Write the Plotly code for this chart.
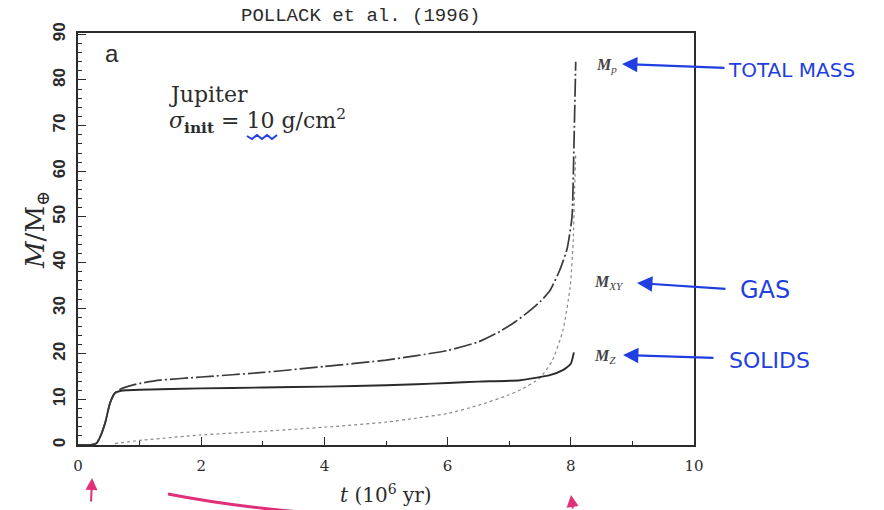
import plotly.graph_objects as go

# ---- data ----
t_mp = [0.0, 0.2, 0.3, 0.36, 0.44, 0.52, 0.6, 0.7, 0.8, 1.0, 1.33, 2.0, 3.0, 4.0, 5.0, 5.5, 6.0, 6.5, 6.85, 7.1, 7.34, 7.5, 7.66, 7.82, 7.94, 8.02, 8.05, 8.08]
m_mp = [0.0, 0.0, 0.4, 1.8, 4.8, 9.2, 11.4, 12.3, 12.8, 13.5, 14.2, 14.9, 15.9, 17.2, 18.6, 19.6, 20.7, 22.6, 24.9, 27.0, 29.5, 31.4, 33.8, 38.3, 43.0, 50.0, 65.0, 84.0]

t_mz = [0.0, 0.2, 0.3, 0.36, 0.44, 0.52, 0.6, 0.7, 0.8, 1.0, 2.0, 3.0, 4.0, 5.0, 5.5, 6.0, 6.5, 7.18, 7.66, 7.87, 8.0, 8.05]
m_mz = [0.0, 0.0, 0.4, 1.8, 4.8, 9.2, 11.4, 11.9, 12.0, 12.1, 12.4, 12.6, 12.8, 13.1, 13.3, 13.6, 13.9, 14.2, 15.3, 16.4, 17.8, 20.3]

t_mxy = [0.6, 1.0, 2.0, 3.0, 4.0, 5.0, 5.5, 6.0, 6.5, 7.0, 7.2, 7.5, 7.7, 7.87, 7.99, 8.04, 8.06, 8.08]
m_mxy = [0.3, 1.0, 2.2, 3.0, 3.9, 5.0, 5.9, 6.9, 8.7, 11.0, 12.2, 14.7, 18.5, 25.0, 34.6, 45.0, 55.0, 64.0]

x_ticks = [0, 2, 4, 6, 8, 10]
y_ticks = [0, 10, 20, 30, 40, 50, 60, 70, 80, 90]

# ---- layout geometry (pixels) ----
W, H = 884, 510
L, R, T, B = 78, 190, 33, 65
PW, PH = W - L - R, H - T - B


def px(x):
    return (x - L) / PW


def py(y):
    return (H - B - y) / PH


INK = "#2b2b2b"
BLUE = "#1f3fe0"
PINK = "#e0307a"
SERIF = "DejaVu Serif"

fig = go.Figure()
fig.add_trace(go.Scatter(x=t_mxy, y=m_mxy, mode="lines", line_shape="spline",
                         line=dict(color="#8a8a8a", width=1.2, dash="dot", smoothing=0.5), name="M_XY"))
fig.add_trace(go.Scatter(x=t_mz, y=m_mz, mode="lines", line_shape="spline",
                         line=dict(color=INK, width=1.9, smoothing=0.5), name="M_Z"))
fig.add_trace(go.Scatter(x=t_mp, y=m_mp, mode="lines", line_shape="spline",
                         line=dict(color="#3a3a3a", width=1.7, dash="18px,3px,2px,3px", smoothing=0.5),
                         name="M_p"))

axis_common = dict(showline=True, linecolor=INK, linewidth=1.5, mirror=True,
                   ticks="inside", tickcolor=INK, tickwidth=1.3, ticklen=8,
                   showgrid=False, zeroline=False)

fig.update_xaxes(range=[0, 10], tickvals=x_ticks,
                 tickfont=dict(family=SERIF, size=15, color=INK),
                 ticklabelstandoff=6,
                 minor=dict(ticks="inside", dtick=1, ticklen=4, tickcolor=INK, tickwidth=1.2, showgrid=False),
                 **axis_common)
fig.update_yaxes(range=[0, 90.3], tickvals=y_ticks, tickangle=-90,
                 tickfont=dict(family="Liberation Sans", size=17, color=INK, weight="bold"),
                 ticklabelstandoff=4,
                 minor=dict(ticks="inside", dtick=2, ticklen=4, tickcolor=INK, tickwidth=1.2, showgrid=False),
                 **axis_common)


def note(xp, yp, text, font, xanchor="center", angle=0):
    return dict(x=px(xp), y=py(yp), xref="paper", yref="paper", showarrow=False,
                xanchor=xanchor, yanchor="middle", textangle=angle, text=text, font=font)


ann = []
ann.append(note(360, 16, "POLLACK et al. (1996)", dict(family="Liberation Mono", size=19, color=INK)))
ann.append(note(386, 494, "<i>t</i> (10<sup>6</sup> yr)", dict(family=SERIF, size=20, color=INK)))
ann.append(note(36, 230, "<i>M</i>/M<sub>⊕</sub>", dict(family=SERIF, size=26, color=INK), angle=-90))
ann.append(note(103, 54, "a", dict(family="Liberation Sans", size=24, color=INK), xanchor="left"))
ann.append(note(167, 94, "Jupiter", dict(family=SERIF, size=22, color=INK), xanchor="left"))
ann.append(note(167, 121, "<i>σ</i><sub><b>init</b></sub> = 10 g/cm<sup>2</sup>",
                dict(family=SERIF, size=22, color=INK), xanchor="left"))
# curve labels
lab_font = dict(family="Liberation Serif", size=16, color="#444")
ann.append(note(594, 66, "<i><b>M</b></i><sub><i>p</i></sub>", lab_font, xanchor="left"))
ann.append(note(592, 282, "<i><b>M</b></i><sub><i>XY</i></sub>", lab_font, xanchor="left"))
ann.append(note(592, 356, "<i><b>M</b></i><sub><i>Z</i></sub>", lab_font, xanchor="left"))
# handwritten blue notes
ann.append(note(726, 70, "TOTAL MASS", dict(family="DejaVu Sans", size=20, color=BLUE), xanchor="left"))
ann.append(note(738, 290, "GAS", dict(family="DejaVu Sans", size=24, color=BLUE), xanchor="left"))
ann.append(note(727, 360, "SOLIDS", dict(family="DejaVu Sans", size=22, color=BLUE), xanchor="left"))
# blue arrows: head (x, y), tail (x, y)
for hx, hy, tx, ty in [(622, 64, 726, 68), (637, 283, 727, 289), (623, 355, 715, 358)]:
    ann.append(dict(x=px(hx), y=py(hy), xref="paper", yref="paper",
                    ax=tx - hx, ay=ty - hy, axref="pixel", ayref="pixel",
                    showarrow=True, arrowhead=2, arrowsize=1.4, arrowwidth=2.2, arrowcolor=BLUE, text=""))
# pink arrows at bottom
for hx, hy, tx, ty in [(92, 478, 91, 503), (571, 495, 573, 512)]:
    ann.append(dict(x=px(hx), y=py(hy), xref="paper", yref="paper",
                    ax=tx - hx, ay=ty - hy, axref="pixel", ayref="pixel",
                    showarrow=True, arrowhead=2, arrowsize=1.2, arrowwidth=2, arrowcolor=PINK, text=""))

shapes = []
# pink curved stroke
shapes.append(dict(type="path", xref="paper", yref="paper",
                   path=f"M {px(168)},{py(494)} Q {px(230)},{py(506)} {px(300)},{py(512)}",
                   line=dict(color=PINK, width=3)))
# blue squiggle under "10"
pts = ["M {},{}".format(px(247), py(136))]
for i in range(1, 7):
    xx = 247 + i * 5
    yy = 139 if i % 2 else 135
    pts.append("L {},{}".format(px(xx), py(yy)))
shapes.append(dict(type="path", xref="paper", yref="paper", path=" ".join(pts),
                   line=dict(color=BLUE, width=2)))

fig.update_layout(width=W, height=H, margin=dict(l=L, r=R, t=T, b=B, pad=0),
                  paper_bgcolor="white", plot_bgcolor="white", showlegend=False,
                  annotations=ann, shapes=shapes)

fig.write_html("out.html")
